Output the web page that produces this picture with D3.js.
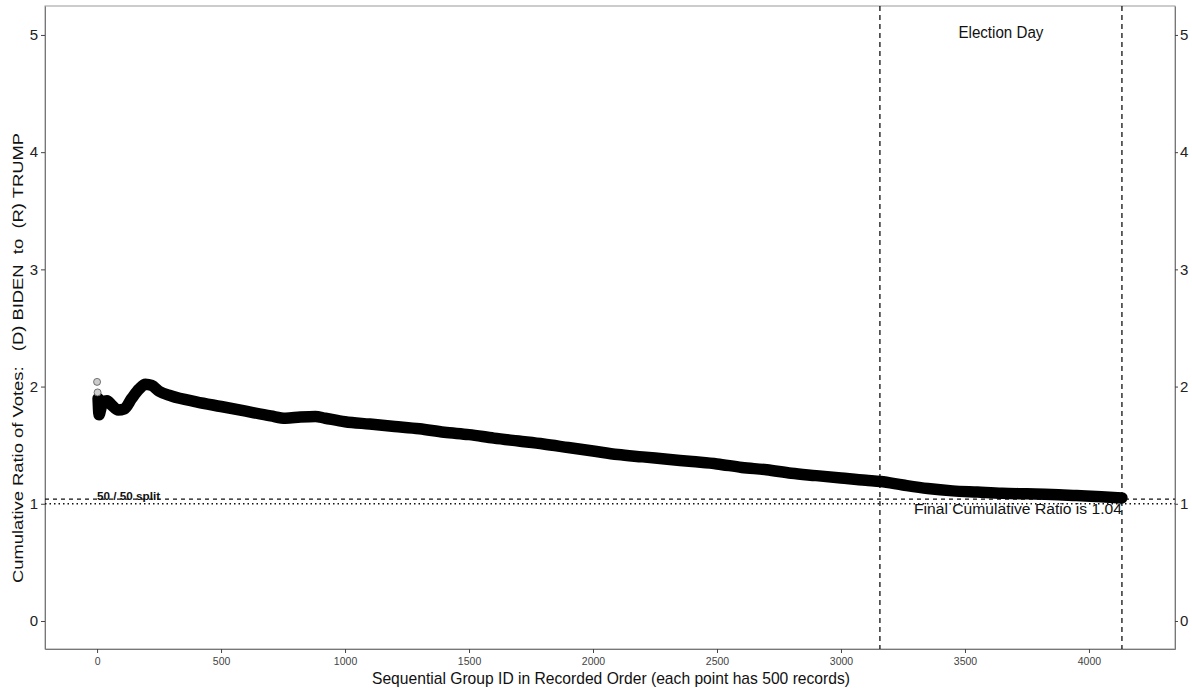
<!DOCTYPE html>
<html>
<head>
<meta charset="utf-8">
<script src="https://cdn.jsdelivr.net/npm/d3@7"></script>
<style>
  body { margin: 0; background: #fff; }
  text { font-family: "Liberation Sans", Arial, sans-serif; }
</style>
</head>
<body>
<svg id="chart" width="1192" height="688"></svg>
<script>
// group ids (500 records each) and cumulative ratio biden/trump
const groupIds = [0, 2, 4, 8, 14, 22, 40, 60, 85, 110, 140, 170, 195, 220, 250, 300, 400, 500, 600, 700,
  760, 820, 880, 920, 1000, 1100, 1200, 1300, 1400, 1500, 1600, 1700, 1800, 1900, 2000, 2100, 2200,
  2300, 2400, 2500, 2600, 2700, 2800, 2900, 3000, 3100, 3160, 3250, 3350, 3450, 3550, 3650, 3750,
  3850, 3950, 4050, 4133];
const ratios = [2.04, 1.95, 1.90, 1.76, 1.80, 1.87, 1.88, 1.84, 1.80, 1.81, 1.90, 1.98, 2.02, 2.01, 1.96,
  1.92, 1.87, 1.83, 1.79, 1.75, 1.73, 1.74, 1.745, 1.73, 1.70, 1.68, 1.66, 1.64, 1.61, 1.59, 1.56, 1.535,
  1.51, 1.48, 1.45, 1.42, 1.40, 1.38, 1.36, 1.34, 1.31, 1.29, 1.26, 1.24, 1.22, 1.20, 1.19, 1.16, 1.13,
  1.11, 1.10, 1.09, 1.085, 1.08, 1.07, 1.06, 1.05];

const xTicks = [0, 500, 1000, 1500, 2000, 2500, 3000, 3500, 4000];
const yTicks = [0, 1, 2, 3, 4, 5];
const electionDayStart = 3157;
const lastGroup = 4133;
const finalRatio = 1.04;
const evenSplit = 1;

const svg = d3.select("#chart");
const margin = { left: 45, right: 17, top: 6, bottom: 39 };
const width = 1192, height = 688;

const xScale = d3.scaleLinear().domain([-210, 4347]).range([margin.left, width - margin.right]);
const yScale = d3.scaleLinear().domain([-0.239, 5.247]).range([height - margin.bottom, margin.top]);

const points = groupIds.map((g, i) => ({ g: g, r: ratios[i] }));

// panel border
svg.append("rect")
    .attr("x", margin.left).attr("y", margin.top)
    .attr("width", width - margin.right - margin.left)
    .attr("height", height - margin.bottom - margin.top)
    .attr("fill", "none").attr("stroke", "#999").attr("stroke-width", 1);

// axes
const axisStyle = (g, size, col) => {
    g.select(".domain").attr("stroke", "#777");
    g.selectAll(".tick line").attr("stroke", "#444");
    g.selectAll(".tick text").attr("fill", col).style("font-size", size)
        .style("font-family", "'Liberation Sans', Arial, sans-serif");
};

svg.append("g")
    .attr("transform", `translate(0,${height - margin.bottom})`)
    .call(d3.axisBottom(xScale).tickValues(xTicks).tickFormat(d3.format("d"))
        .tickSize(4).tickSizeOuter(0).tickPadding(5))
    .call(g => axisStyle(g, "10.5px", "#444"));

svg.append("g")
    .attr("transform", `translate(${margin.left},0)`)
    .call(d3.axisLeft(yScale).tickValues(yTicks).tickFormat(d3.format("d"))
        .tickSize(4).tickSizeOuter(0).tickPadding(3))
    .call(g => axisStyle(g, "15px", "#222"));

svg.append("g")
    .attr("transform", `translate(${width - margin.right},0)`)
    .call(d3.axisRight(yScale).tickValues(yTicks).tickFormat(d3.format("d"))
        .tickSize(3).tickSizeOuter(0).tickPadding(2))
    .call(g => axisStyle(g, "15px", "#222"));

// reference lines
svg.append("line")
    .attr("x1", margin.left).attr("x2", width - margin.right)
    .attr("y1", yScale(evenSplit)).attr("y2", yScale(evenSplit))
    .attr("stroke", "#111").attr("stroke-width", 1.5).attr("stroke-dasharray", "1.5,3");

svg.append("line")
    .attr("x1", margin.left).attr("x2", width - margin.right)
    .attr("y1", yScale(finalRatio)).attr("y2", yScale(finalRatio))
    .attr("stroke", "#111").attr("stroke-width", 1.2).attr("stroke-dasharray", "4,4");

[electionDayStart, lastGroup].forEach(v => {
    svg.append("line")
        .attr("x1", xScale(v)).attr("x2", xScale(v))
        .attr("y1", margin.top).attr("y2", height - margin.bottom)
        .attr("stroke", "#111").attr("stroke-width", 1.3).attr("stroke-dasharray", "5,4");
});

// the points: isolated first ones, then the dense run that overlaps into a thick band
const firstPts = points.slice(0, 2);
const dense = points.slice(2);

const myLine = d3.line()
    .x(d => xScale(d.g))
    .y(d => yScale(d.r))
    .curve(d3.curveMonotoneX);

svg.append("path")
    .datum(dense)
    .attr("d", myLine)
    .attr("fill", "none")
    .attr("stroke", "#000")
    .attr("stroke-width", 11.5)
    .attr("stroke-linecap", "round")
    .attr("stroke-linejoin", "round");

svg.selectAll(".firstPts")
    .data(firstPts)
    .enter()
    .append("circle")
        .attr("class", "firstPts")
        .attr("cx", d => xScale(d.g))
        .attr("cy", d => yScale(d.r))
        .attr("r", 3.5)
        .attr("fill", "#ccc")
        .attr("stroke", "#555")
        .attr("stroke-width", 0.8);

// annotations
svg.append("text")
    .attr("x", xScale(0)).attr("y", 500)
    .attr("textLength", 63).attr("lengthAdjust", "spacingAndGlyphs")
    .style("font-size", "11.5px").style("font-weight", "bold").attr("fill", "#111")
    .text("50 / 50 split");

svg.append("text")
    .attr("x", xScale(lastGroup) - 208).attr("y", 514)
    .attr("textLength", 208).attr("lengthAdjust", "spacingAndGlyphs")
    .style("font-size", "15.5px").attr("fill", "#111")
    .text("Final Cumulative Ratio is " + finalRatio.toFixed(2));

svg.append("text")
    .attr("x", (xScale(electionDayStart) + xScale(lastGroup)) / 2 - 42.5).attr("y", 38)
    .attr("textLength", 85).attr("lengthAdjust", "spacingAndGlyphs")
    .style("font-size", "16px").attr("fill", "#111")
    .text("Election Day");

// axis titles
svg.append("text")
    .attr("x", 372).attr("y", 684)
    .attr("textLength", 478).attr("lengthAdjust", "spacingAndGlyphs")
    .style("font-size", "17px").attr("fill", "#111")
    .text("Sequential Group ID in Recorded Order (each point has 500 records)");

svg.append("text")
    .attr("transform", "translate(23,583) rotate(-90)")
    .attr("xml:space", "preserve")
    .style("white-space", "pre")
    .attr("textLength", 450).attr("lengthAdjust", "spacingAndGlyphs")
    .style("font-size", "15.5px").attr("fill", "#111")
    .text("Cumulative Ratio of Votes:   (D) BIDEN  to  (R) TRUMP");
</script>
</body>
</html>
